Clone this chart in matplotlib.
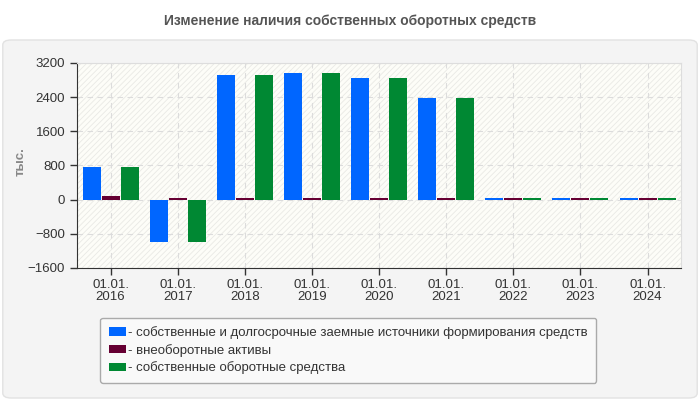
import matplotlib.pyplot as plt
import numpy as np
from matplotlib.patches import FancyBboxPatch, Rectangle

years = ['2016', '2017', '2018', '2019', '2020', '2021', '2022', '2023', '2024']
sources = [760, -1000, 2920, 2960, 2840, 2370, 30, 30, 30]
noncurrent = [85, 30, 30, 30, 30, 30, 30, 30, 30]
working = [760, -1000, 2920, 2960, 2840, 2370, 30, 30, 30]

series_names = ['- собственные и долгосрочные заемные источники формирования средств',
                '- внеоборотные активы',
                '- собственные оборотные средства']
colors = ['#0066ff', '#660033', '#008833']

plt.rcParams['font.family'] = ['Liberation Sans', 'DejaVu Sans']
plt.rcParams['hatch.linewidth'] = 0.6

fig = plt.figure(figsize=(7, 4), dpi=100)
fig.patch.set_facecolor('white')

# фоновая панель
panel = FancyBboxPatch((0.004, 0.005), 0.992, 0.895, boxstyle='round,pad=0,rounding_size=0.012',
                       transform=fig.transFigure, facecolor='#f4f4f4', edgecolor='#e2e2e2',
                       linewidth=1, zorder=-10)
fig.patches.append(panel)

fig.text(0.5, 0.948, 'Изменение наличия собственных оборотных средств', ha='center', va='center',
         fontsize=10, fontweight='bold', color='#555555')

ax = fig.add_axes([0.110, 0.33, 0.863, 0.513])
ax.set_facecolor('#fdfdf8')
ax.add_patch(Rectangle((0, 0), 1, 1, transform=ax.transAxes, facecolor='none',
                       edgecolor='#e9e9e5', hatch='//////', linewidth=0, zorder=0))

x = np.arange(len(years))
w = 0.268
step = 0.283
for i, (vals, c) in enumerate(zip([sources, noncurrent, working], colors)):
    ax.bar(x + (i - 1) * step, vals, w, color=c, label=series_names[i], zorder=3)

ax.set_xlim(-0.5, len(years) - 0.5)
ax.set_ylim(-1600, 3200)
ax.set_yticks(np.arange(-1600, 3201, 800))
ax.set_xticks(x)
ax.set_xticklabels(['01.01.\n' + y for y in years], linespacing=1.0)
ax.tick_params(labelsize=9.5, colors='#333333', length=5, width=1, direction='out')
ax.tick_params(axis='x', pad=3)
ax.grid(True, linestyle=(0, (5, 4)), color='#dcdcdc', linewidth=0.8, zorder=1)
ax.set_axisbelow(True)
for s in ['top', 'right']:
    ax.spines[s].set_color('#dddddd')
for s in ['left', 'bottom']:
    ax.spines[s].set_color('#333333')
fig.text(0.030, 0.595, 'тыс.', rotation=90, ha='center', va='center',
         color='#888888', fontsize=9.5, fontweight='bold')

leg = fig.legend(loc='upper left', bbox_to_anchor=(0.134, 0.222), bbox_transform=fig.transFigure,
                 fontsize=9.5, frameon=True, handlelength=1.3, handleheight=0.6, handletextpad=0.15,
                 labelspacing=0.35, borderpad=0.65, fancybox=True, labelcolor='#333333')
leg.get_frame().set_facecolor('#f9f9f9')
leg.get_frame().set_edgecolor('#aaaaaa')
leg.get_frame().set_alpha(1)

fig.savefig('out.png', dpi=100, facecolor=fig.get_facecolor())
